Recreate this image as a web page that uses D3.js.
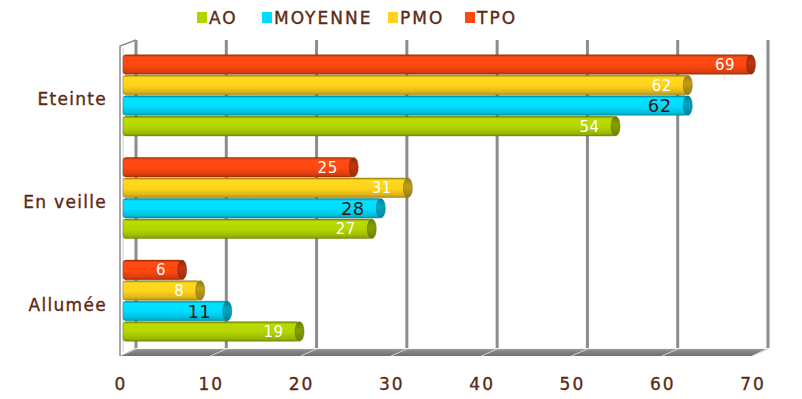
<!DOCTYPE html>
<html>
<head>
<meta charset="utf-8">
<script src="https://cdn.jsdelivr.net/npm/d3@7/dist/d3.min.js"></script>
<style>
  html, body { margin: 0; padding: 0; background: #fff; }
  svg { display: block; }
  text { font-family: "DejaVu Sans", sans-serif; fill: #5b2a12; }
  .lbl { stroke: #5b2a12; stroke-width: 0.35px; }
</style>
</head>
<body>
<svg id="chart" width="802" height="399"></svg>
<script>
// Categories (top to bottom) and series (drawn top to bottom inside each group)
const categories = ["Eteinte", "En veille", "Allumée"];
const seriesNames = ["AO", "MOYENNE", "PMO", "TPO"];
const seriesColors = ["#b4d400", "#00dcff", "#ffd21c", "#ff4810"];

const valuesAO      = [54, 27, 19];
const valuesMOYENNE = [62, 28, 11];
const valuesPMO     = [62, 31, 8];
const valuesTPO     = [69, 25, 6];

const tickValues = [0, 10, 20, 30, 40, 50, 60, 70];

const seriesValues = [valuesAO, valuesMOYENNE, valuesPMO, valuesTPO];

const svg = d3.select("#chart");
const defs = svg.append("defs");

// Depth planes of the pseudo-3D plot: front edge, bar plane, back wall
const xFront = d3.scaleLinear().domain([0, 70]).range([120, 752]);
const xBar   = d3.scaleLinear().domain([0, 70]).range([128, 760]);
const xBack  = d3.scaleLinear().domain([0, 70]).range([136, 768]);

const wallTop = 40, wallBottom = 348, floorFront = 356;

const yCat = d3.scaleBand().domain(categories).range([44, 352])
  .paddingInner(0.2).paddingOuter(0.1);
// stacked order inside a group: TPO on top, AO at the bottom
const drawOrder = ["TPO", "PMO", "MOYENNE", "AO"];
const ySer = d3.scaleBand().domain(drawOrder).range([0, yCat.bandwidth()]).padding(0);

// cylinder-like shading per series
seriesColors.forEach((c, i) => {
  const base = d3.color(c);
  const g = defs.append("linearGradient").attr("id", "grad" + i)
    .attr("x1", 0).attr("y1", 0).attr("x2", 0).attr("y2", 1);
  g.append("stop").attr("offset", "0%").attr("stop-color", base.darker(1.3));
  g.append("stop").attr("offset", "12%").attr("stop-color", base.brighter(0.1));
  g.append("stop").attr("offset", "55%").attr("stop-color", base);
  g.append("stop").attr("offset", "85%").attr("stop-color", base.darker(0.4));
  g.append("stop").attr("offset", "100%").attr("stop-color", base.darker(1.0));
  const gc = defs.append("linearGradient").attr("id", "cap" + i)
    .attr("x1", 0).attr("y1", 0).attr("x2", 0).attr("y2", 1);
  gc.append("stop").attr("offset", "0%").attr("stop-color", base.darker(1.5));
  gc.append("stop").attr("offset", "40%").attr("stop-color", base.darker(0.8));
  gc.append("stop").attr("offset", "100%").attr("stop-color", base.darker(1.4));
});

const floorGrad = defs.append("linearGradient").attr("id", "floorGrad")
  .attr("x1", 0).attr("y1", 0).attr("x2", 0).attr("y2", 1);
floorGrad.append("stop").attr("offset", "0%").attr("stop-color", "#bdbdbd");
floorGrad.append("stop").attr("offset", "30%").attr("stop-color", "#8a8a8a");
floorGrad.append("stop").attr("offset", "100%").attr("stop-color", "#6f6f6f");

// back wall gridlines
svg.append("g").selectAll("line").data(tickValues).join("line")
  .attr("x1", d => xBack(d)).attr("x2", d => xBack(d))
  .attr("y1", wallTop).attr("y2", wallBottom)
  .attr("stroke", "#8c8c8c").attr("stroke-width", 3);

// floor slab
svg.append("path")
  .attr("d", `M${xBack(0)},${wallBottom} L${xBack(70)},${wallBottom} L${xFront(70)},${floorFront} L${xFront(0)},${floorFront} Z`)
  .attr("fill", "url(#floorGrad)");
svg.append("line")
  .attr("x1", xBack(0)).attr("x2", xBack(70))
  .attr("y1", wallBottom + 0.5).attr("y2", wallBottom + 0.5)
  .attr("stroke", "#f2f2f2").attr("stroke-width", 1);
// depth marks where gridlines meet the floor
svg.append("g").selectAll("line").data(tickValues).join("line")
  .attr("x1", d => xBack(d)).attr("y1", wallBottom + 1)
  .attr("x2", d => xFront(d)).attr("y2", floorFront)
  .attr("stroke", "#d8d8d8").attr("stroke-width", 1);

// left wall edge
svg.append("path")
  .attr("d", `M${xFront(0)},${floorFront} L${xFront(0)},${wallTop + 6} L${xBack(0)},${wallTop}`)
  .attr("fill", "none").attr("stroke", "#8c8c8c").attr("stroke-width", 1.5);
svg.append("line")
  .attr("x1", xFront(0) + 3).attr("x2", xFront(0) + 3)
  .attr("y1", wallTop + 8).attr("y2", floorFront - 4)
  .attr("stroke", "#d0d0d0").attr("stroke-width", 1);

// bars
const barsG = svg.append("g");
categories.forEach((cat, ci) => {
  seriesNames.forEach((name, si) => {
    const v = seriesValues[si][ci];
    const y = yCat(cat) + ySer(name);
    const h = ySer.bandwidth();
    const x0 = xBar(0) - 5;
    const x1 = xBar(v);
    const g = barsG.append("g");
    g.append("rect")
      .attr("x", x0).attr("y", y + 0.5)
      .attr("width", x1 - x0).attr("height", h - 1)
      .attr("rx", 3).attr("ry", 3)
      .attr("fill", `url(#grad${si})`)
      .attr("stroke", d3.color(seriesColors[si]).darker(1.8))
      .attr("stroke-opacity", 0.5).attr("stroke-width", 0.8);
    g.append("ellipse")
      .attr("cx", x1).attr("cy", y + h / 2)
      .attr("rx", 4.5).attr("ry", h / 2 - 0.5)
      .attr("fill", `url(#cap${si})`)
      .attr("stroke", d3.color(seriesColors[si]).darker(2.2))
      .attr("stroke-opacity", 0.55).attr("stroke-width", 0.8);
    const dark = name === "MOYENNE";
    g.append("text")
      .attr("x", x1 - 16).attr("y", y + h / 2)
      .attr("dy", "0.37em")
      .attr("text-anchor", "end")
      .style("fill", dark ? "#2e1a10" : "#ffffff")
      .style("font-size", dark ? "18px" : "15px")
      .style("letter-spacing", dark ? "0.5px" : "0.5px")
      .text(v);
  });
});

// category labels
svg.append("g").selectAll("text").data(categories).join("text")
  .attr("class", "lbl")
  .attr("x", 107)
  .attr("y", d => yCat(d) + yCat.bandwidth() / 2 + 4)
  .attr("dy", "0.35em")
  .attr("text-anchor", "end")
  .style("font-size", "17px")
  .style("letter-spacing", "1.3px")
  .text(d => d);

// x tick labels on the front edge
svg.append("g").selectAll("text").data(tickValues).join("text")
  .attr("class", "lbl")
  .attr("x", d => xFront(d) + 1)
  .attr("y", 390)
  .attr("text-anchor", "middle")
  .style("font-size", "17px")
  .style("letter-spacing", "2px")
  .text(d => d);

// legend
const legendX = [197, 262, 388, 465];
const legend = svg.append("g");
seriesNames.forEach((name, i) => {
  legend.append("rect")
    .attr("x", legendX[i]).attr("y", 12)
    .attr("width", 10).attr("height", 11)
    .attr("fill", seriesColors[i]);
  legend.append("text")
    .attr("class", "lbl")
    .attr("x", legendX[i] + 12).attr("y", 24)
    .style("font-size", "17px")
    .style("letter-spacing", "2px")
    .text(name);
});
</script>
</body>
</html>
